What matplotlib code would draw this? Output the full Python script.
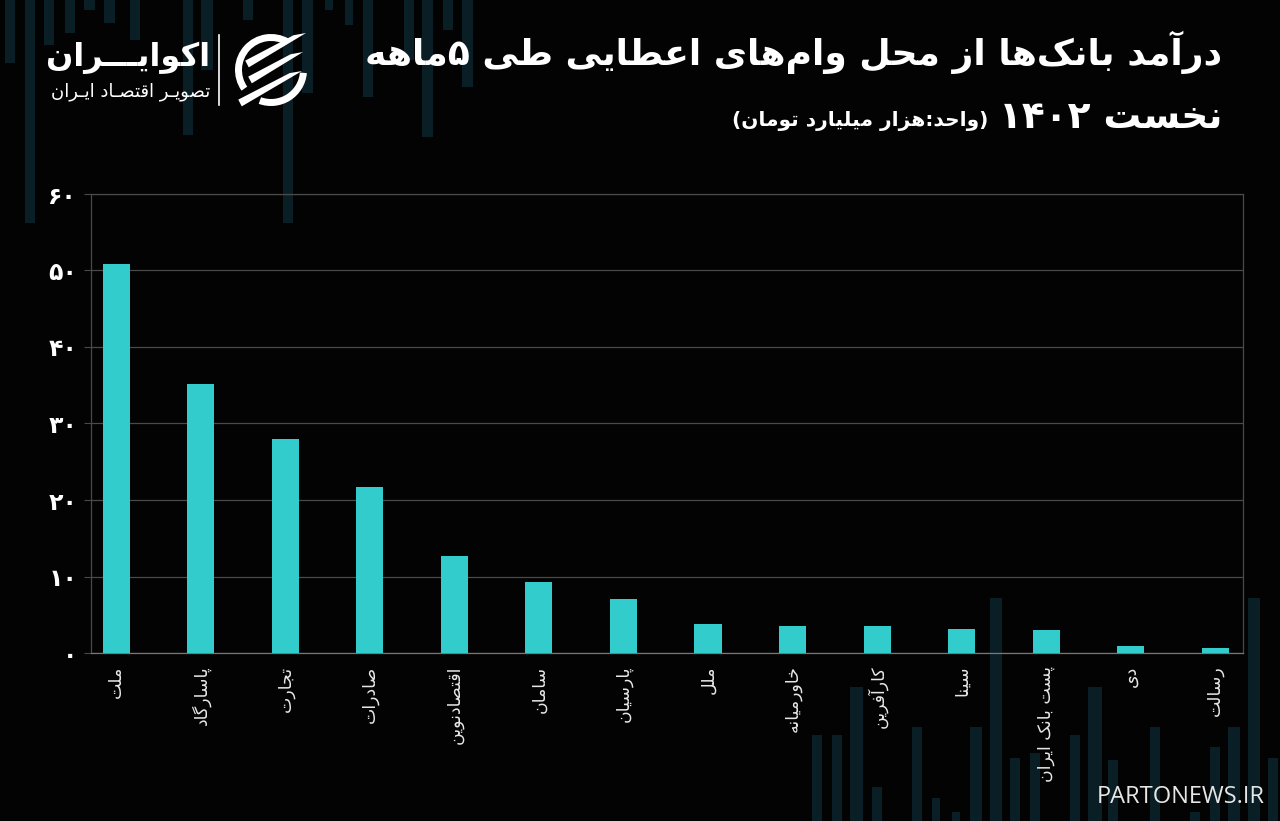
import matplotlib
matplotlib.use('Agg')
import matplotlib.pyplot as plt
import numpy as np
from matplotlib.patches import Rectangle, Wedge, Polygon

# ---------------- data ----------------
banks = ['ملت', 'پاسارگاد', 'تجارت', 'صادرات', 'اقتصادنوین', 'سامان', 'پارسیان',
         'ملل', 'خاورمیانه', 'کارآفرین', 'سینا', 'پست بانک ایران', 'دی', 'رسالت']
income = [50.8, 35.2, 28.0, 21.7, 12.7, 9.3, 7.0, 3.8, 3.5, 3.5, 3.1, 3.0, 0.9, 0.7]
yticks = [0, 10, 20, 30, 40, 50, 60]

title_line1 = 'درآمد بانک\u200cها از محل وام\u200cهای اعطایی طی ۵ماهه'
title_line2 = 'نخست ۱۴۰۲'
subtitle = '(واحد:هزار میلیارد تومان)'
brand = 'اکوایـــران'
brand_sub = 'تصویـر اقتصـاد ایـران'
watermark = 'PARTONEWS.IR'

# decorative background stripes (x_left, width, y_top, y_bottom) in pixels
deco_top = [(5, 10, 0, 63), (25, 10, 0, 223), (44, 10, 0, 45), (65, 10, 0, 33),
            (84, 11, 0, 10), (104, 11, 0, 23), (130, 10, 0, 40), (183, 10, 0, 135),
            (201, 12, 0, 70), (243, 10, 0, 20), (283, 10, 0, 223), (302, 11, 0, 93),
            (325, 8, 0, 10), (345, 8, 0, 25), (363, 10, 0, 97), (404, 10, 0, 60),
            (422, 11, 0, 137), (443, 10, 0, 30), (462, 11, 0, 87)]
deco_bot = [(812, 10, 735, 821), (832, 10, 735, 821), (850, 13, 687, 821),
            (872, 10, 787, 821), (912, 10, 727, 821), (932, 8, 798, 821),
            (952, 8, 812, 821), (970, 12, 727, 821), (990, 12, 598, 821),
            (1010, 10, 758, 821), (1030, 10, 753, 821), (1070, 10, 735, 821),
            (1088, 14, 687, 821), (1108, 10, 760, 821), (1150, 10, 727, 821),
            (1190, 10, 812, 821), (1210, 10, 747, 821), (1228, 12, 727, 821),
            (1248, 12, 598, 821), (1268, 10, 758, 821)]

# ---------------- Persian shaping helpers ----------------
FORMS = {
    '\u0621': ('\uFE80', None, None, None),
    '\u0622': ('\uFE81', '\uFE82', None, None),
    '\u0623': ('\uFE83', '\uFE84', None, None),
    '\u0624': ('\uFE85', '\uFE86', None, None),
    '\u0625': ('\uFE87', '\uFE88', None, None),
    '\u0626': ('\uFE89', '\uFE8A', '\uFE8B', '\uFE8C'),
    '\u0627': ('\uFE8D', '\uFE8E', None, None),
    '\u0628': ('\uFE8F', '\uFE90', '\uFE91', '\uFE92'),
    '\u0629': ('\uFE93', '\uFE94', None, None),
    '\u062A': ('\uFE95', '\uFE96', '\uFE97', '\uFE98'),
    '\u062B': ('\uFE99', '\uFE9A', '\uFE9B', '\uFE9C'),
    '\u062C': ('\uFE9D', '\uFE9E', '\uFE9F', '\uFEA0'),
    '\u062D': ('\uFEA1', '\uFEA2', '\uFEA3', '\uFEA4'),
    '\u062E': ('\uFEA5', '\uFEA6', '\uFEA7', '\uFEA8'),
    '\u062F': ('\uFEA9', '\uFEAA', None, None),
    '\u0630': ('\uFEAB', '\uFEAC', None, None),
    '\u0631': ('\uFEAD', '\uFEAE', None, None),
    '\u0632': ('\uFEAF', '\uFEB0', None, None),
    '\u0633': ('\uFEB1', '\uFEB2', '\uFEB3', '\uFEB4'),
    '\u0634': ('\uFEB5', '\uFEB6', '\uFEB7', '\uFEB8'),
    '\u0635': ('\uFEB9', '\uFEBA', '\uFEBB', '\uFEBC'),
    '\u0636': ('\uFEBD', '\uFEBE', '\uFEBF', '\uFEC0'),
    '\u0637': ('\uFEC1', '\uFEC2', '\uFEC3', '\uFEC4'),
    '\u0638': ('\uFEC5', '\uFEC6', '\uFEC7', '\uFEC8'),
    '\u0639': ('\uFEC9', '\uFECA', '\uFECB', '\uFECC'),
    '\u063A': ('\uFECD', '\uFECE', '\uFECF', '\uFED0'),
    '\u0641': ('\uFED1', '\uFED2', '\uFED3', '\uFED4'),
    '\u0642': ('\uFED5', '\uFED6', '\uFED7', '\uFED8'),
    '\u0643': ('\uFED9', '\uFEDA', '\uFEDB', '\uFEDC'),
    '\u0644': ('\uFEDD', '\uFEDE', '\uFEDF', '\uFEE0'),
    '\u0645': ('\uFEE1', '\uFEE2', '\uFEE3', '\uFEE4'),
    '\u0646': ('\uFEE5', '\uFEE6', '\uFEE7', '\uFEE8'),
    '\u0647': ('\uFEE9', '\uFEEA', '\uFEEB', '\uFEEC'),
    '\u0648': ('\uFEED', '\uFEEE', None, None),
    '\u0649': ('\uFEEF', '\uFEF0', None, None),
    '\u064A': ('\uFEF1', '\uFEF2', '\uFEF3', '\uFEF4'),
    '\u067E': ('\uFB56', '\uFB57', '\uFB58', '\uFB59'),
    '\u0686': ('\uFB7A', '\uFB7B', '\uFB7C', '\uFB7D'),
    '\u0698': ('\uFB8A', '\uFB8B', None, None),
    '\u06A9': ('\uFB8E', '\uFB8F', '\uFB90', '\uFB91'),
    '\u06AF': ('\uFB92', '\uFB93', '\uFB94', '\uFB95'),
    '\u06CC': ('\uFBFC', '\uFBFD', '\uFBFE', '\uFBFF'),
    '\u0640': ('\u0640', '\u0640', '\u0640', '\u0640'),
}
LAM_ALEF = {'\u0622': ('\uFEF5', '\uFEF6'), '\u0623': ('\uFEF7', '\uFEF8'),
            '\u0625': ('\uFEF9', '\uFEFA'), '\u0627': ('\uFEFB', '\uFEFC')}


def _dual(c):
    return c in FORMS and FORMS[c][2] is not None


def _joins(c):
    return c in FORMS and FORMS[c][1] is not None


def _shape(s):
    out = []
    i, n = 0, len(s)
    while i < n:
        c = s[i]
        if c not in FORMS:
            out.append(c)
            i += 1
            continue
        prev_join = i > 0 and _dual(s[i - 1])
        if c == '\u0644' and i + 1 < n and s[i + 1] in LAM_ALEF:
            out.append(LAM_ALEF[s[i + 1]][1 if prev_join else 0])
            i += 2
            continue
        next_join = _dual(c) and i + 1 < n and _joins(s[i + 1])
        iso, fin, ini, med = FORMS[c]
        if prev_join and next_join:
            f = med
        elif prev_join:
            f = fin
        elif next_join:
            f = ini
        else:
            f = iso
        out.append(f)
        i += 1
    return ''.join(ch for ch in out if ch != '\u200c')


DIGITS = set('0123456789۰۱۲۳۴۵۶۷۸۹')
MIRROR = {'(': ')', ')': '(', '[': ']', ']': '['}


def fa(s):
    s = _shape(s)
    runs, cur, curd = [], '', None
    for ch in s:
        d = ch in DIGITS
        if curd is None or d == curd:
            cur += ch
        else:
            runs.append((cur, curd))
            cur = ch
        curd = d
    if cur:
        runs.append((cur, curd))
    res = ''
    for txt, d in reversed(runs):
        res += txt if d else ''.join(MIRROR.get(c, c) for c in reversed(txt))
    return res


def fa_num(v):
    return str(v).translate(str.maketrans('0123456789', '۰۱۲۳۴۵۶۷۸۹'))


# ---------------- figure ----------------
W, H = 1280, 821
fig = plt.figure(figsize=(W / 100, H / 100), dpi=100, facecolor='#030303')

def fx(x):
    return x / W

def fy(y):
    return 1 - y / H

# background decoration axes
bg = fig.add_axes([0, 0, 1, 1], zorder=0)
bg.set_xlim(0, W)
bg.set_ylim(H, 0)
bg.axis('off')
for (x0, w, y0, y1) in deco_top + deco_bot:
    bg.add_patch(Rectangle((x0, y0), w, y1 - y0, color='#0a1e26', lw=0))

# main chart
ax = fig.add_axes([fx(91), fy(653), fx(1243) - fx(91), fy(194) - fy(653)], zorder=2)
ax.set_facecolor('none')
x = list(range(len(banks)))
ax.bar(x, income, width=0.32, color='#33cccc', zorder=3)
ax.set_xlim(-0.3, len(banks) - 1 + 0.33)
ax.set_ylim(0, 60)
ax.set_yticks(yticks)
ax.set_yticklabels([fa_num(v) for v in yticks], fontsize=17, fontweight='bold',
                   color='white', family='DejaVu Sans')
ax.set_xticks(x)
ax.set_xticklabels([fa(b) for b in banks], rotation=90, fontsize=12.5, color='#e8e8e8',
                   family='DejaVu Sans', va='top', ha='center')
ax.tick_params(axis='y', length=5, color='#4a4a4a', pad=5)
ax.tick_params(axis='x', length=0, pad=9)
ax.grid(axis='y', color='#4a4a4a', linewidth=0.9, zorder=0)
ax.set_axisbelow(True)
for sp in ax.spines.values():
    sp.set_color('#4a4a4a')
    sp.set_linewidth(0.9)
ax.spines['bottom'].set_color('#777777')

# titles
fig.text(fx(1222), fy(52), fa(title_line1), ha='right', va='center', fontsize=26,
         fontweight='bold', color='white', family='DejaVu Sans')
fig.text(fx(1222), fy(118), fa(title_line2), ha='right', va='center', fontsize=27,
         fontweight='bold', color='white', family='DejaVu Sans')
fig.text(fx(988), fy(121), fa(subtitle), ha='right', va='center', fontsize=14.5,
         fontweight='bold', color='white', family='DejaVu Sans')

# brand
fig.text(fx(210), fy(58), fa(brand), ha='right', va='center', fontsize=23,
         fontweight='bold', color='white', family='DejaVu Sans')
fig.text(fx(210), fy(92), fa(brand_sub), ha='right', va='center', fontsize=13,
         color='white', family='DejaVu Sans')

# logo emblem
ov = fig.add_axes([0, 0, 1, 1], zorder=5)
ov.set_xlim(0, W)
ov.set_ylim(H, 0)
ov.axis('off')
ov.plot([219, 219], [35, 105], color='white', lw=1.2)
cx, cy, r = 271, 70, 36
ov.add_patch(Wedge((cx, cy), r, -215, -60, width=7, color='white', lw=0))
ov.add_patch(Wedge((cx, cy), r, 5, 110, width=7, color='white', lw=0))
stripes = [((247, 64), (306, 33)), ((250, 80), (303, 52)), ((240, 103), (302, 71))]
for (sx, sy), (ex, ey) in stripes:
    d = np.array([ex - sx, ey - sy], float)
    d /= np.hypot(*d)
    nrm = np.array([-d[1], d[0]]) * 3.8
    pts = [(sx + nrm[0], sy + nrm[1]), (sx - nrm[0], sy - nrm[1]),
           (ex - 12 * d[0] - nrm[0], ey - 12 * d[1] - nrm[1]), (ex, ey)]
    ov.add_patch(Polygon(pts, closed=True, color='white', lw=0))

# watermark
fig.text(fx(1265), fy(797), watermark, ha='right', va='center', fontsize=17,
         color='#e6e6e6', family='Open Sans')

fig.savefig('out.png', dpi=100, facecolor=fig.get_facecolor())
